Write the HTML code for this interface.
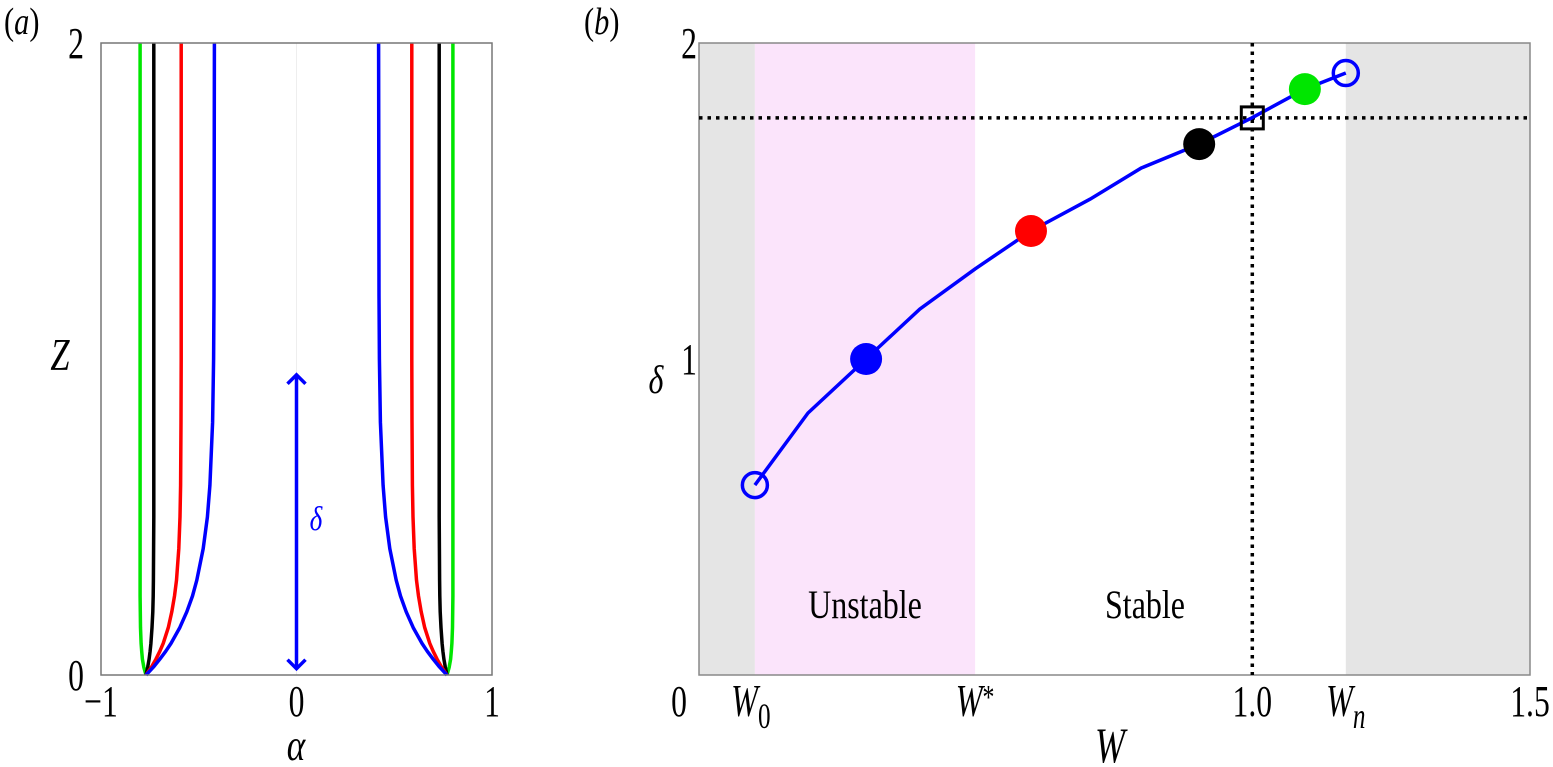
<!DOCTYPE html>
<html><head><meta charset="utf-8"><style>
body{margin:0;background:#fff}
svg{display:block;font-family:"Liberation Serif",serif}
</style></head><body>
<svg id="fig" width="1553" height="767" viewBox="0 0 1553 767" xmlns="http://www.w3.org/2000/svg">
<g id="pa"></g>
<g id="pb"></g>
</svg>
<script>
// Panel (a) data
const zLevels = [0,0.025,0.05,0.075,0.1,0.15,0.2,0.25,0.3,0.4,0.5,0.6,0.8,1.0,1.2,2];
const alphaBlue  = [-0.77,-0.732,-0.699,-0.669,-0.642,-0.597,-0.561,-0.532,-0.510,-0.477,-0.456,-0.443,-0.429,-0.424,-0.422,-0.42];
const alphaRed   = [-0.77,-0.742,-0.719,-0.699,-0.682,-0.656,-0.638,-0.624,-0.614,-0.602,-0.596,-0.593,-0.591,-0.59,-0.59,-0.59];
const alphaBlack = [-0.77,-0.761,-0.754,-0.749,-0.745,-0.739,-0.735,-0.733,-0.732,-0.731,-0.73,-0.73,-0.73,-0.73,-0.73,-0.73];
const alphaGreen = [-0.77,-0.781,-0.788,-0.792,-0.795,-0.798,-0.799,-0.80,-0.80,-0.80,-0.80,-0.80,-0.80,-0.80,-0.80,-0.80];
const xTicksA = [-1,0,1];
const xTickLabelsA = ["\u22121","0","1"];
const yTicksA = [0,2];
const deltaArrow = [0.02,0.95];
// Panel (b) data
const Wvals = [0.101,0.197,0.302,0.399,0.499,0.600,0.707,0.799,0.904,0.999,1.095,1.169];
const deltaVals = [0.601,0.829,1.0,1.158,1.285,1.405,1.506,1.604,1.680,1.763,1.854,1.905];
const markerW = [0.302,0.600,0.904,1.095];
const markerD = [1.0,1.405,1.680,1.854];
const markerColors = ["#0000ff","#ff0000","#000000","#00e600"];
const W0 = 0.101, Wstar = 0.499, Wn = 1.169;
const crossW = 1.0, crossD = 1.763;
const yTicksB = [1,2];

const NS="http://www.w3.org/2000/svg";
function mk(parent,tag,attrs,text){const e=document.createElementNS(NS,tag);for(const k in attrs)e.setAttribute(k,attrs[k]);if(text!==undefined)e.textContent=text;parent.appendChild(e);return e;}
// condensed text helper
function tx(parent,x,y,size,sx,anchor,name,html,italic,fill){
  const e=mk(parent,'text',{x:0,y:0,'font-size':size,'text-anchor':anchor,transform:`translate(${x},${y}) scale(${sx},1)`});
  if(italic) e.setAttribute('font-style','italic');
  if(fill) e.setAttribute('fill',fill);
  
  
  e.innerHTML=html;
  return e;
}

// ---- Panel a
const pa=document.getElementById('pa');
const ax=v=>296.5+v*195.5, ay=v=>675-v*316;
mk(pa,'line',{x1:ax(0),y1:43,x2:ax(0),y2:675,stroke:'#eee','stroke-width':1});
const cols=[[alphaGreen,'#00e600'],[alphaBlack,'#000'],[alphaRed,'#ff0000'],[alphaBlue,'#0000ff']];
cols.forEach(([arr,c])=>{
  [-1,1].forEach(s=>{
    const pts=arr.map((a,j)=>(j?'L':'M')+ax(s===-1?a:-a).toFixed(1)+','+ay(zLevels[j]).toFixed(1)).join(' ');
    const p=mk(pa,'path',{d:pts,fill:'none',stroke:c,'stroke-width':3.5,'stroke-linejoin':'round'});
    
    
  });
});
mk(pa,'rect',{x:101,y:43,width:391,height:632,fill:'none',stroke:'#777','stroke-width':1.5});
const ya1=ay(deltaArrow[0]), ya2=ay(deltaArrow[1]);
const arr=mk(pa,'g',{stroke:'#0000ff','stroke-width':3.5,fill:'none',});
mk(arr,'line',{x1:ax(0),y1:ya1,x2:ax(0),y2:ya2});
mk(arr,'path',{d:`M${ax(0)-9},${ya2+9} L${ax(0)},${ya2} L${ax(0)+9},${ya2+9} M${ax(0)-9},${ya1-9} L${ax(0)},${ya1} L${ax(0)+9},${ya1-9}`});
tx(pa,316,530,34,0.8,'middle','delta-label','δ',true,'#0000ff');
xTicksA.forEach((t,i)=>tx(pa,ax(t),716,44,0.72,'middle','x-tick-label',xTickLabelsA[i]));
yTicksA.forEach(t=>tx(pa,84,ay(t)+15,44,0.72,'end','y-tick-label',String(t)));
tx(pa,296,760,44,0.8,'middle','x-axis-title','α',true);
tx(pa,60,370,46,0.75,'middle','y-axis-title','Z',true);
tx(pa,4,34,38,0.8,'start','panel-label-a','(<tspan font-style="italic">a</tspan>)');

// ---- Panel b
const pb=document.getElementById('pb');
const bx=v=>699+v*553.3, by=v=>675-v*316;
mk(pb,'rect',{x:699,y:43,width:bx(W0)-699,height:632,fill:'#e5e5e5',});
mk(pb,'rect',{x:bx(W0),y:43,width:bx(Wstar)-bx(W0),height:632,fill:'#fbe4fb',});
mk(pb,'rect',{x:bx(Wn),y:43,width:1530-bx(Wn),height:632,fill:'#e5e5e5',});
mk(pb,'rect',{x:699,y:43,width:831,height:632,fill:'none',stroke:'#888','stroke-width':1.5});
mk(pb,'line',{x1:699,y1:by(crossD),x2:1530,y2:by(crossD),stroke:'#000','stroke-width':3.5,'stroke-dasharray':'3.5 5',});
mk(pb,'line',{x1:bx(crossW),y1:43,x2:bx(crossW),y2:675,stroke:'#000','stroke-width':3.5,'stroke-dasharray':'3.5 5',});
const lp=Wvals.map((w,i)=>(i?'L':'M')+bx(w).toFixed(1)+','+by(deltaVals[i]).toFixed(1)).join(' ');
mk(pb,'path',{d:lp,fill:'none',stroke:'#0000ff','stroke-width':3.5,});
[0,Wvals.length-1].forEach(i=>{
  const c=mk(pb,'circle',{cx:bx(Wvals[i]),cy:by(deltaVals[i]),r:12.5,fill:'none',stroke:'#0000ff','stroke-width':3.5});
  
  
});
markerW.forEach((w,i)=>{
  const c=mk(pb,'circle',{cx:bx(w),cy:by(markerD[i]),r:16,fill:markerColors[i]});
  
  
});
mk(pb,'rect',{x:bx(crossW)-11,y:by(crossD)-11,width:22,height:22,fill:'none',stroke:'#000','stroke-width':3,});
tx(pb,865,618,40,0.8,'middle','unstable-label','Unstable');
tx(pb,1145,618,40,0.8,'middle','stable-label','Stable');
yTicksB.forEach(t=>tx(pb,697,by(t)+15,44,0.72,'end','y-tick-label',String(t)));
tx(pb,679,716,44,0.72,'middle','x-tick-0','0');
tx(pb,bx(W0)-4,716,46,0.7,'middle','x-tick-w0','W<tspan font-style="normal" font-size="36" dy="12">0</tspan>',true);
tx(pb,bx(Wstar),716,46,0.7,'middle','x-tick-wstar','W<tspan font-style="normal" font-size="34" dy="-8">*</tspan>',true);
tx(pb,bx(1.0),716,44,0.72,'middle','x-tick-1','1.0');
tx(pb,bx(Wn),716,46,0.7,'middle','x-tick-wn','W<tspan font-size="36" dy="12">n</tspan>',true);
tx(pb,1530,716,44,0.72,'middle','x-tick-1-5','1.5');
tx(pb,1110,762,50,0.72,'middle','x-axis-title','W',true);
tx(pb,656,393,40,0.8,'middle','y-axis-title','δ',true);
tx(pb,584,34,38,0.8,'start','panel-label-b','(<tspan font-style="italic">b</tspan>)');
</script>
</body></html>
